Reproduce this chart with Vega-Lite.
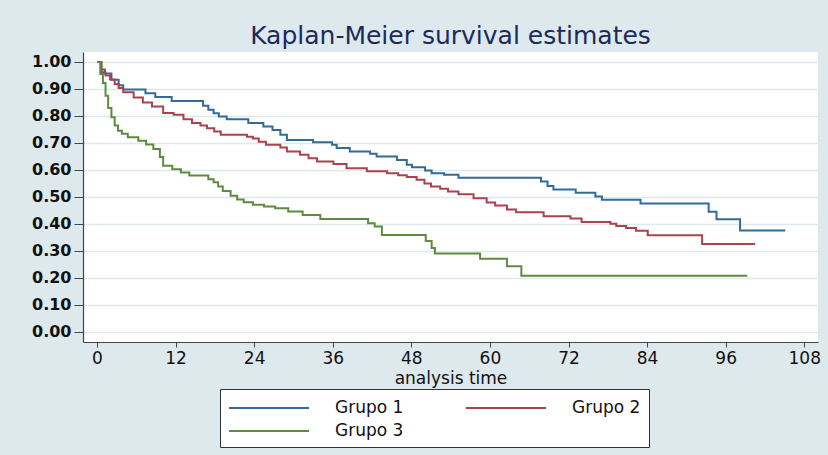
{
  "$schema": "https://vega.github.io/schema/vega-lite/v6.json",
  "autosize": {"type": "none"},
  "padding": {"left": 83, "top": 52, "right": 10, "bottom": 113},
  "width": 735,
  "height": 290,
  "background": "#dde9ec",
  "config": {
    "view": {"fill": "white", "stroke": null},
    "font": "DejaVu Sans"
  },
  "title": {
    "text": "Kaplan-Meier survival estimates",
    "fontSize": 25,
    "fontWeight": "normal",
    "font": "DejaVu Sans",
    "color": "#1b2b5c",
    "anchor": "middle",
    "offset": 3
  },
  "data": {
    "values": [
      {"t": 0, "s": 1.0, "g": "Grupo 1"},
      {"t": 0.6, "s": 0.972, "g": "Grupo 1"},
      {"t": 1.2, "s": 0.957, "g": "Grupo 1"},
      {"t": 2.2, "s": 0.934, "g": "Grupo 1"},
      {"t": 3.3, "s": 0.914, "g": "Grupo 1"},
      {"t": 4.0, "s": 0.898, "g": "Grupo 1"},
      {"t": 7.4, "s": 0.884, "g": "Grupo 1"},
      {"t": 8.9, "s": 0.870, "g": "Grupo 1"},
      {"t": 11.4, "s": 0.855, "g": "Grupo 1"},
      {"t": 16.2, "s": 0.838, "g": "Grupo 1"},
      {"t": 17.0, "s": 0.823, "g": "Grupo 1"},
      {"t": 17.8, "s": 0.810, "g": "Grupo 1"},
      {"t": 18.6, "s": 0.798, "g": "Grupo 1"},
      {"t": 19.8, "s": 0.788, "g": "Grupo 1"},
      {"t": 23.1, "s": 0.774, "g": "Grupo 1"},
      {"t": 25.4, "s": 0.761, "g": "Grupo 1"},
      {"t": 26.8, "s": 0.748, "g": "Grupo 1"},
      {"t": 28.0, "s": 0.730, "g": "Grupo 1"},
      {"t": 29.0, "s": 0.711, "g": "Grupo 1"},
      {"t": 33.0, "s": 0.702, "g": "Grupo 1"},
      {"t": 35.9, "s": 0.693, "g": "Grupo 1"},
      {"t": 36.6, "s": 0.681, "g": "Grupo 1"},
      {"t": 38.6, "s": 0.668, "g": "Grupo 1"},
      {"t": 41.7, "s": 0.660, "g": "Grupo 1"},
      {"t": 42.7, "s": 0.650, "g": "Grupo 1"},
      {"t": 45.8, "s": 0.637, "g": "Grupo 1"},
      {"t": 47.3, "s": 0.619, "g": "Grupo 1"},
      {"t": 48.1, "s": 0.610, "g": "Grupo 1"},
      {"t": 50.1, "s": 0.598, "g": "Grupo 1"},
      {"t": 51.1, "s": 0.588, "g": "Grupo 1"},
      {"t": 53.0, "s": 0.582, "g": "Grupo 1"},
      {"t": 55.2, "s": 0.571, "g": "Grupo 1"},
      {"t": 67.8, "s": 0.557, "g": "Grupo 1"},
      {"t": 68.8, "s": 0.540, "g": "Grupo 1"},
      {"t": 69.7, "s": 0.527, "g": "Grupo 1"},
      {"t": 73.1, "s": 0.515, "g": "Grupo 1"},
      {"t": 76.1, "s": 0.501, "g": "Grupo 1"},
      {"t": 77.1, "s": 0.489, "g": "Grupo 1"},
      {"t": 83.0, "s": 0.475, "g": "Grupo 1"},
      {"t": 93.4, "s": 0.445, "g": "Grupo 1"},
      {"t": 94.6, "s": 0.417, "g": "Grupo 1"},
      {"t": 98.2, "s": 0.375, "g": "Grupo 1"},
      {"t": 105.1, "s": 0.375, "g": "Grupo 1"},

      {"t": 0, "s": 1.0, "g": "Grupo 2"},
      {"t": 0.7, "s": 0.962, "g": "Grupo 2"},
      {"t": 1.3, "s": 0.950, "g": "Grupo 2"},
      {"t": 2.0, "s": 0.935, "g": "Grupo 2"},
      {"t": 2.7, "s": 0.918, "g": "Grupo 2"},
      {"t": 3.3, "s": 0.904, "g": "Grupo 2"},
      {"t": 4.0, "s": 0.888, "g": "Grupo 2"},
      {"t": 5.6, "s": 0.868, "g": "Grupo 2"},
      {"t": 7.0, "s": 0.850, "g": "Grupo 2"},
      {"t": 8.4, "s": 0.835, "g": "Grupo 2"},
      {"t": 10.1, "s": 0.811, "g": "Grupo 2"},
      {"t": 11.7, "s": 0.804, "g": "Grupo 2"},
      {"t": 13.2, "s": 0.788, "g": "Grupo 2"},
      {"t": 14.5, "s": 0.774, "g": "Grupo 2"},
      {"t": 15.8, "s": 0.765, "g": "Grupo 2"},
      {"t": 16.8, "s": 0.754, "g": "Grupo 2"},
      {"t": 17.9, "s": 0.742, "g": "Grupo 2"},
      {"t": 18.9, "s": 0.730, "g": "Grupo 2"},
      {"t": 22.9, "s": 0.723, "g": "Grupo 2"},
      {"t": 23.8, "s": 0.716, "g": "Grupo 2"},
      {"t": 24.7, "s": 0.704, "g": "Grupo 2"},
      {"t": 25.8, "s": 0.693, "g": "Grupo 2"},
      {"t": 28.0, "s": 0.683, "g": "Grupo 2"},
      {"t": 29.0, "s": 0.668, "g": "Grupo 2"},
      {"t": 31.0, "s": 0.656, "g": "Grupo 2"},
      {"t": 32.3, "s": 0.643, "g": "Grupo 2"},
      {"t": 33.6, "s": 0.631, "g": "Grupo 2"},
      {"t": 36.1, "s": 0.622, "g": "Grupo 2"},
      {"t": 38.1, "s": 0.606, "g": "Grupo 2"},
      {"t": 41.2, "s": 0.595, "g": "Grupo 2"},
      {"t": 44.3, "s": 0.588, "g": "Grupo 2"},
      {"t": 46.0, "s": 0.580, "g": "Grupo 2"},
      {"t": 47.3, "s": 0.574, "g": "Grupo 2"},
      {"t": 48.8, "s": 0.563, "g": "Grupo 2"},
      {"t": 50.0, "s": 0.550, "g": "Grupo 2"},
      {"t": 51.0, "s": 0.538, "g": "Grupo 2"},
      {"t": 52.4, "s": 0.530, "g": "Grupo 2"},
      {"t": 53.6, "s": 0.520, "g": "Grupo 2"},
      {"t": 55.2, "s": 0.510, "g": "Grupo 2"},
      {"t": 57.5, "s": 0.495, "g": "Grupo 2"},
      {"t": 59.5, "s": 0.479, "g": "Grupo 2"},
      {"t": 60.8, "s": 0.468, "g": "Grupo 2"},
      {"t": 62.6, "s": 0.453, "g": "Grupo 2"},
      {"t": 64.0, "s": 0.443, "g": "Grupo 2"},
      {"t": 68.2, "s": 0.428, "g": "Grupo 2"},
      {"t": 72.3, "s": 0.420, "g": "Grupo 2"},
      {"t": 74.0, "s": 0.407, "g": "Grupo 2"},
      {"t": 78.4, "s": 0.400, "g": "Grupo 2"},
      {"t": 79.3, "s": 0.392, "g": "Grupo 2"},
      {"t": 80.8, "s": 0.385, "g": "Grupo 2"},
      {"t": 82.3, "s": 0.374, "g": "Grupo 2"},
      {"t": 84.1, "s": 0.358, "g": "Grupo 2"},
      {"t": 92.4, "s": 0.325, "g": "Grupo 2"},
      {"t": 100.5, "s": 0.325, "g": "Grupo 2"},

      {"t": 0, "s": 1.0, "g": "Grupo 3"},
      {"t": 0.5, "s": 0.955, "g": "Grupo 3"},
      {"t": 0.9, "s": 0.922, "g": "Grupo 3"},
      {"t": 1.3, "s": 0.875, "g": "Grupo 3"},
      {"t": 1.7, "s": 0.829, "g": "Grupo 3"},
      {"t": 2.2, "s": 0.795, "g": "Grupo 3"},
      {"t": 2.7, "s": 0.765, "g": "Grupo 3"},
      {"t": 3.2, "s": 0.745, "g": "Grupo 3"},
      {"t": 3.8, "s": 0.734, "g": "Grupo 3"},
      {"t": 4.7, "s": 0.721, "g": "Grupo 3"},
      {"t": 6.3, "s": 0.708, "g": "Grupo 3"},
      {"t": 7.5, "s": 0.694, "g": "Grupo 3"},
      {"t": 8.6, "s": 0.677, "g": "Grupo 3"},
      {"t": 9.6, "s": 0.648, "g": "Grupo 3"},
      {"t": 10.1, "s": 0.615, "g": "Grupo 3"},
      {"t": 11.5, "s": 0.602, "g": "Grupo 3"},
      {"t": 12.8, "s": 0.590, "g": "Grupo 3"},
      {"t": 14.1, "s": 0.579, "g": "Grupo 3"},
      {"t": 17.0, "s": 0.565, "g": "Grupo 3"},
      {"t": 17.8, "s": 0.554, "g": "Grupo 3"},
      {"t": 18.5, "s": 0.538, "g": "Grupo 3"},
      {"t": 19.2, "s": 0.522, "g": "Grupo 3"},
      {"t": 20.4, "s": 0.504, "g": "Grupo 3"},
      {"t": 21.4, "s": 0.490, "g": "Grupo 3"},
      {"t": 22.4, "s": 0.480, "g": "Grupo 3"},
      {"t": 23.8, "s": 0.471, "g": "Grupo 3"},
      {"t": 25.5, "s": 0.464, "g": "Grupo 3"},
      {"t": 27.2, "s": 0.458, "g": "Grupo 3"},
      {"t": 29.2, "s": 0.446, "g": "Grupo 3"},
      {"t": 31.4, "s": 0.433, "g": "Grupo 3"},
      {"t": 34.1, "s": 0.418, "g": "Grupo 3"},
      {"t": 41.4, "s": 0.402, "g": "Grupo 3"},
      {"t": 42.4, "s": 0.390, "g": "Grupo 3"},
      {"t": 43.5, "s": 0.359, "g": "Grupo 3"},
      {"t": 50.2, "s": 0.336, "g": "Grupo 3"},
      {"t": 51.1, "s": 0.310, "g": "Grupo 3"},
      {"t": 51.6, "s": 0.290, "g": "Grupo 3"},
      {"t": 58.5, "s": 0.271, "g": "Grupo 3"},
      {"t": 62.6, "s": 0.243, "g": "Grupo 3"},
      {"t": 64.8, "s": 0.208, "g": "Grupo 3"},
      {"t": 99.3, "s": 0.208, "g": "Grupo 3"}
    ]
  },
  "mark": {"type": "line", "interpolate": "step-after", "strokeWidth": 2},
  "encoding": {
    "x": {
      "field": "t",
      "type": "quantitative",
      "scale": {"domain": [-2.14, 110.1], "nice": false, "zero": false},
      "axis": {
        "values": [0, 12, 24, 36, 48, 60, 72, 84, 96, 108],
        "grid": false,
        "title": "analysis time",
        "titleFont": "DejaVu Sans",
        "titleFontSize": 17,
        "titleFontWeight": "normal",
        "titleColor": "#111",
        "titlePadding": 4,
        "labelFont": "DejaVu Sans",
        "labelFontSize": 17,
        "labelColor": "#111",
        "labelPadding": 3,
        "tickSize": 5,
        "tickColor": "#444",
        "domainColor": "#444",
        "domainWidth": 1.2
      }
    },
    "y": {
      "field": "s",
      "type": "quantitative",
      "scale": {"domain": [-0.038, 1.037], "nice": false, "zero": false},
      "axis": {
        "values": [0, 0.1, 0.2, 0.3, 0.4, 0.5, 0.6, 0.7, 0.8, 0.9, 1.0],
        "format": ".2f",
        "title": null,
        "grid": true,
        "gridColor": "#dde9ec",
        "gridWidth": 1.5,
        "labelFont": "DejaVu Sans",
        "labelFontSize": 16,
        "labelFontWeight": "bold",
        "labelColor": "#111",
        "labelPadding": 3,
        "tickSize": 9,
        "tickColor": "#444",
        "domainColor": "#444",
        "domainWidth": 1.2
      }
    },
    "color": {
      "field": "g",
      "type": "nominal",
      "scale": {"domain": ["Grupo 1", "Grupo 2", "Grupo 3"], "range": ["#336a98", "#a8434f", "#5e8b3f"]},
      "legend": {
        "title": null,
        "orient": "none",
        "legendX": 137,
        "legendY": 337,
        "direction": "horizontal",
        "columns": 2,
        "fillColor": "white",
        "strokeColor": "#333",
        "padding": 8,
        "symbolType": "M-4,0H4",
        "symbolSize": 400,
        "symbolStrokeWidth": 2,
        "symbolOffset": 30,
        "labelFont": "DejaVu Sans",
        "labelFontSize": 17,
        "labelColor": "#111",
        "labelOffset": 55,
        "columnPadding": 58,
        "rowPadding": 4
      }
    }
  }
}
